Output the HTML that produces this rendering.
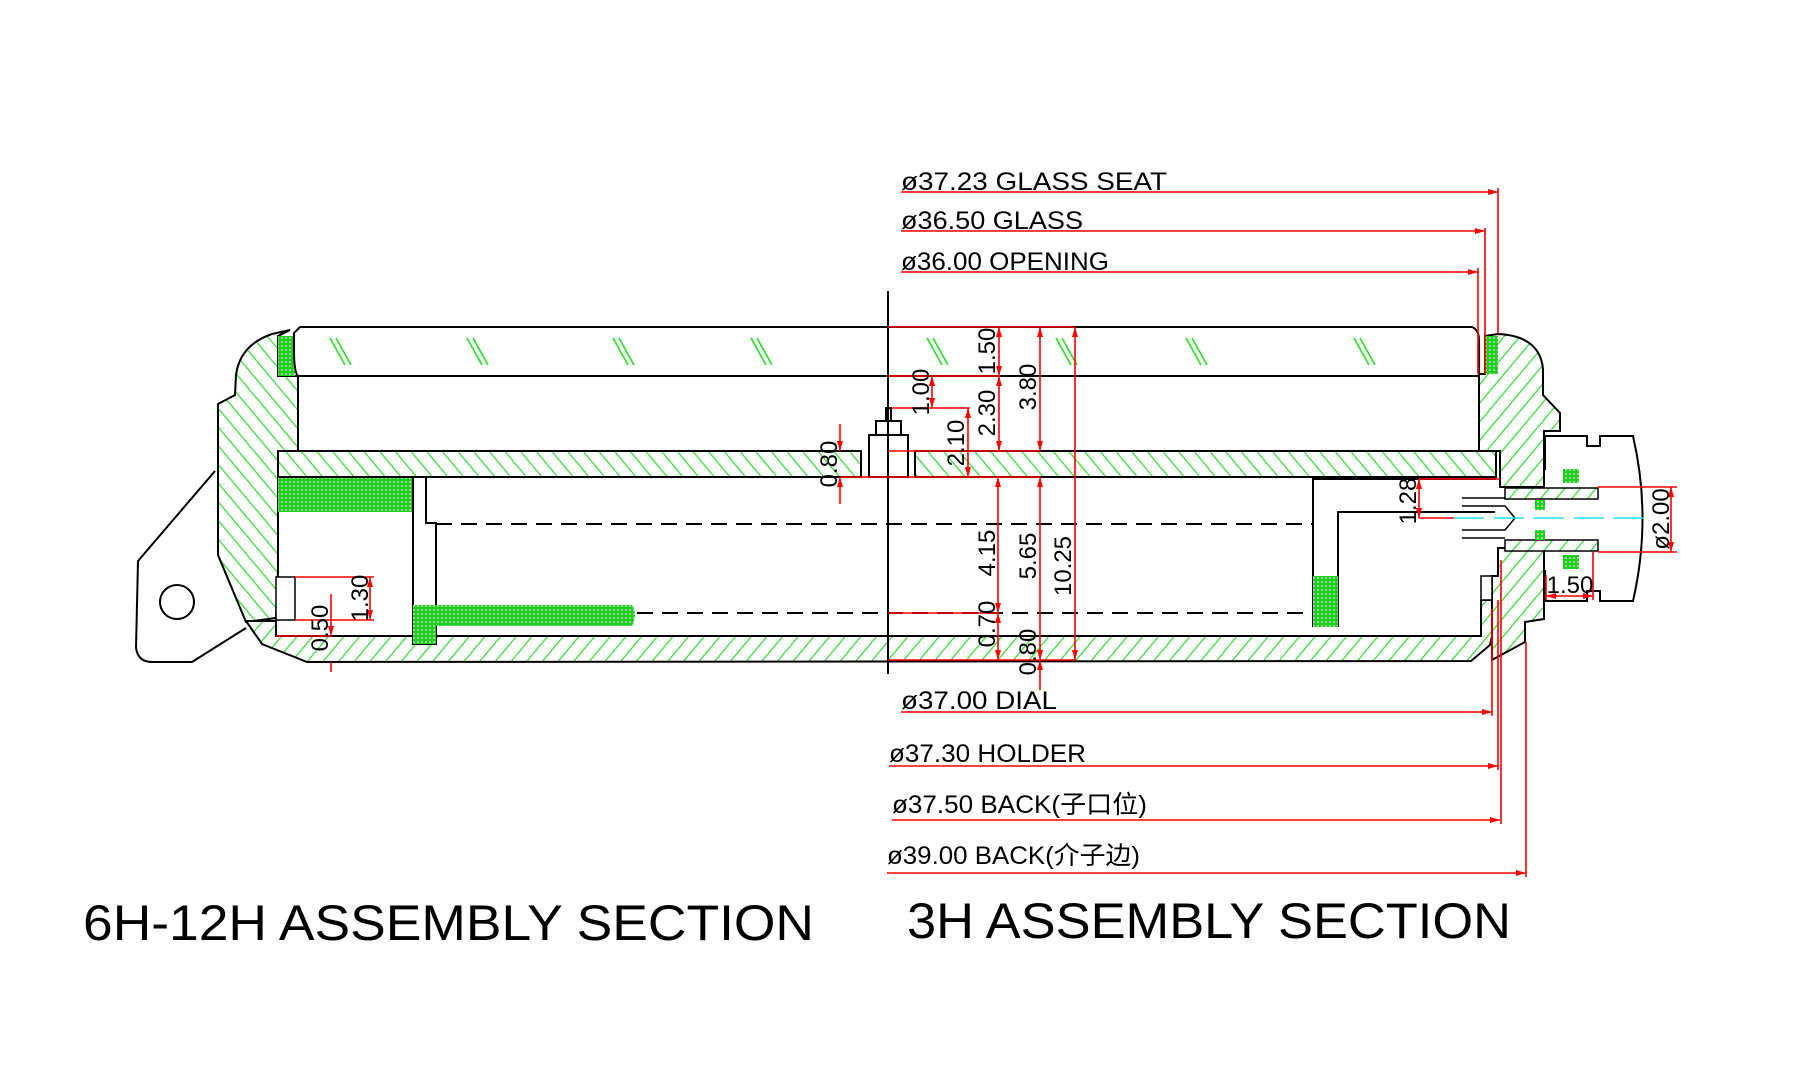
<!DOCTYPE html>
<html><head><meta charset="utf-8"><style>
html,body{margin:0;padding:0;background:#fff}
svg{display:block}
text{font-family:"Liberation Sans","Noto Sans CJK SC",sans-serif}
</style></head><body>
<svg width="1800" height="1079" viewBox="0 0 1800 1079" xmlns="http://www.w3.org/2000/svg">
<defs>
<pattern id="hb" width="12" height="12" patternUnits="userSpaceOnUse" patternTransform="rotate(-40)">
<rect width="12" height="12" fill="#fff"/><line x1="0" y1="0" x2="0" y2="12" stroke="#33dd33" stroke-width="2.5"/></pattern>
<pattern id="hf" width="12" height="12" patternUnits="userSpaceOnUse" patternTransform="rotate(40)">
<rect width="12" height="12" fill="#fff"/><line x1="0" y1="0" x2="0" y2="12" stroke="#33dd33" stroke-width="2.5"/></pattern>
<pattern id="dot" width="4" height="4" patternUnits="userSpaceOnUse">
<rect width="4" height="4" fill="#22cc22"/><circle cx="2" cy="2" r="0.8" fill="#fff"/></pattern>
<marker id="a" viewBox="0 0 10 6" refX="10" refY="3" markerWidth="10" markerHeight="6" orient="auto-start-reverse" markerUnits="userSpaceOnUse">
<path d="M0,0 L10,3 L0,6 Z" fill="#f00"/></marker>
</defs>

<g stroke="#000" stroke-width="2" fill="none">
<path d="M215,471 L138,561 L136,648 Q138,662 152,662 L192,662 L246,628" fill="#fff"/>
<circle cx="177" cy="602" r="17"/>
<path d="M290,330 L272,334 Q240,345 236,375 L235,395 L218,404 L218,555 L246,622 L276,618 L278,572 L278,451 L298,451 L298,376 L278,376 L278,336 Z" fill="url(#hb)"/>
<rect x="278" y="336" width="17" height="40" fill="url(#dot)" stroke="none"/>
<path d="M300,327 L1472,327 Q1479,330 1479,340 L1479,376 L298,376 Q294,372 294,350 L294,333 Z" fill="#fff"/>
<rect x="278" y="451" width="583" height="26" fill="url(#hb)"/>
<rect x="915" y="451" width="581" height="26" fill="url(#hb)"/>
<rect x="869" y="435" width="39" height="42" fill="#fff"/>
<rect x="876" y="421" width="25" height="14" fill="#fff"/>
<rect x="886" y="408" width="5" height="13" fill="#fff"/>
<path d="M246,621 L276,621 L276,636 L1481,636 L1481,600 L1492,600 L1492,636 L1490,645 L1471,661 L307,662 L262,644 Z" fill="url(#hf)"/>
<rect x="278" y="478" width="135" height="34" fill="url(#dot)" stroke="none"/>
<path d="M413,478 L413,644 L436,644 L436,523 L426,523 L426,478"/>
<path d="M413,605 L632,605 Q638,615 632,626 L413,626 Z" fill="url(#dot)" stroke="none"/>
<rect x="413" y="605" width="23" height="39" fill="url(#dot)" stroke="none"/>
<rect x="276" y="577" width="19" height="43" fill="#fff" stroke-width="1.5"/>
<path d="M1498,334 Q1540,336 1543,369 L1543,395 L1560,413 L1560,431 L1544,431 L1544,487 L1500,487 L1500,451 L1479,451 L1479,374 L1485,374 L1485,336 Z" fill="url(#hf)"/>
<rect x="1485" y="336" width="13" height="38" fill="url(#dot)" stroke="none"/>
<path d="M1498,548 L1544,548 L1544,619 L1525,622 L1525,642 L1492,660 L1492,576 L1498,576 Z" fill="url(#hf)"/>
<rect x="1481" y="576" width="11" height="24" fill="#fff" stroke-width="1.5"/>
<path d="M1313,627 L1313,479 L1496,479"/>
<path d="M1338,627 L1338,512 L1495,512"/>
<rect x="1313" y="576" width="25" height="51" fill="url(#dot)" stroke="none"/>
<rect x="1505" y="488" width="93" height="11" fill="url(#hf)" stroke-width="1.5"/>
<rect x="1505" y="540" width="93" height="11" fill="url(#hf)" stroke-width="1.5"/>
<rect x="1563" y="469" width="16" height="14" fill="url(#dot)" stroke="none"/>
<rect x="1563" y="555" width="16" height="14" fill="url(#dot)" stroke="none"/>
<rect x="1535" y="500" width="10" height="10" fill="url(#dot)" stroke="none"/>
<rect x="1535" y="530" width="10" height="10" fill="url(#dot)" stroke="none"/>
<path d="M1462,506 L1505,506 L1515,518 L1505,530 L1462,530" stroke-width="1.5"/>
<path d="M1462,498 L1505,498 M1462,538 L1505,538" stroke-width="1.5"/>
<path d="M1545,470 L1545,436 L1587,436 L1587,446 L1600,446 L1600,436 L1633,436 Q1652,518 1633,601 L1600,601 L1600,591 L1587,591 L1587,601 L1545,601 L1545,570"/>
<line x1="436" y1="524" x2="1313" y2="524" stroke-dasharray="16,9"/>
<line x1="637" y1="613" x2="1313" y2="613" stroke-dasharray="16,9"/>
<line x1="888" y1="291" x2="888" y2="674"/>
</g>
<line x1="1454" y1="518" x2="1644" y2="518" stroke="#22dddd" stroke-width="1.5" stroke-dasharray="30,10"/>
<g stroke="#33dd33" stroke-width="1.8">
<path d="M330,338 L345,365 M336,338 L351,365"/>
<path d="M467,338 L482,365 M473,338 L488,365"/>
<path d="M613,338 L628,365 M619,338 L634,365"/>
<path d="M751,338 L766,365 M757,338 L772,365"/>
<path d="M927,338 L942,365 M933,338 L948,365"/>
<path d="M1056,338 L1071,365 M1062,338 L1077,365"/>
<path d="M1186,338 L1201,365 M1192,338 L1207,365"/>
<path d="M1354,338 L1369,365 M1360,338 L1375,365"/>
</g>

<g stroke="#f00" stroke-width="1.6" fill="none">
<path d="M888,327 H1075 M888,376 H999 M892,408 H970 M888,451 H1040 M840,477 H1040 M888,613 H998 M888,660 H1075"/>
<line x1="999" y1="327" x2="999" y2="376" marker-start="url(#a)" marker-end="url(#a)"/>
<line x1="999" y1="376" x2="999" y2="451" marker-start="url(#a)" marker-end="url(#a)"/>
<line x1="1040" y1="327" x2="1040" y2="451" marker-start="url(#a)" marker-end="url(#a)"/>
<line x1="1075" y1="327" x2="1075" y2="660" marker-start="url(#a)" marker-end="url(#a)"/>
<line x1="998" y1="477" x2="998" y2="613" marker-start="url(#a)" marker-end="url(#a)"/>
<line x1="998" y1="613" x2="998" y2="660" marker-start="url(#a)" marker-end="url(#a)"/>
<line x1="1040" y1="477" x2="1040" y2="660" marker-start="url(#a)" marker-end="url(#a)"/>
<line x1="1040" y1="660" x2="1040" y2="690" marker-start="url(#a)"/>
<line x1="932" y1="376" x2="932" y2="408" marker-start="url(#a)" marker-end="url(#a)"/>
<line x1="968" y1="408" x2="968" y2="477" marker-start="url(#a)" marker-end="url(#a)"/>
<line x1="840" y1="424" x2="840" y2="451" marker-end="url(#a)"/>
<line x1="840" y1="504" x2="840" y2="477" marker-end="url(#a)"/>
<path d="M295,577 H374 M295,620 H374 M276,636 H331"/>
<line x1="370" y1="577" x2="370" y2="620" marker-start="url(#a)" marker-end="url(#a)"/>
<line x1="331" y1="594" x2="331" y2="636" marker-end="url(#a)"/>
<line x1="331" y1="662" x2="331" y2="672" />
<line x1="1419" y1="479" x2="1419" y2="518" marker-start="url(#a)" marker-end="url(#a)"/>
<path d="M1419,479 H1500 M1419,518 H1454"/>
<path d="M1598,487 H1677 M1598,552 H1677"/>
<line x1="1671" y1="487" x2="1671" y2="552" marker-start="url(#a)" marker-end="url(#a)"/>
<path d="M1546,575 V600 M1593,552 V600"/>
<line x1="1546" y1="596" x2="1593" y2="596" marker-start="url(#a)" marker-end="url(#a)"/>
<line x1="901" y1="192" x2="1498" y2="192" marker-end="url(#a)"/><path d="M1498,188 V334"/>
<line x1="901" y1="231" x2="1485" y2="231" marker-end="url(#a)"/><path d="M1485,228 V374"/>
<line x1="901" y1="272" x2="1478" y2="272" marker-end="url(#a)"/><path d="M1478,268 V374"/>
<line x1="901" y1="712" x2="1492" y2="712" marker-end="url(#a)"/><path d="M1492,609 V716"/>
<line x1="889" y1="766" x2="1498" y2="766" marker-end="url(#a)"/><path d="M1498,600 V770"/>
<line x1="892" y1="820" x2="1500" y2="820" marker-end="url(#a)"/><path d="M1501,560 V824"/>
<line x1="887" y1="873" x2="1526" y2="873" marker-end="url(#a)"/><path d="M1526,642 V877"/>
</g>

<g font-size="24" fill="#000" text-anchor="middle">
<text transform="translate(995,351) rotate(-90)">1.50</text>
<text transform="translate(995,413) rotate(-90)">2.30</text>
<text transform="translate(1036,387) rotate(-90)">3.80</text>
<text transform="translate(929,392) rotate(-90)">1.00</text>
<text transform="translate(964,443) rotate(-90)">2.10</text>
<text transform="translate(995,553) rotate(-90)">4.15</text>
<text transform="translate(995,624) rotate(-90)">0.70</text>
<text transform="translate(1036,556) rotate(-90)">5.65</text>
<text transform="translate(1036,652) rotate(-90)">0.80</text>
<text transform="translate(1071,566) rotate(-90)">10.25</text>
<text transform="translate(837,464) rotate(-90)">0.80</text>
<text transform="translate(368,598) rotate(-90)">1.30</text>
<text transform="translate(328,628) rotate(-90)">0.50</text>
<text transform="translate(1416,501) rotate(-90)">1.28</text>
<text transform="translate(1669,519) rotate(-90)">ø2.00</text>
<text x="1570" y="593">1.50</text>
</g>
<g font-size="25" fill="#000">
<text x="901" y="190" textLength="266" lengthAdjust="spacingAndGlyphs">ø37.23 GLASS SEAT</text>
<text x="901" y="229" textLength="182" lengthAdjust="spacingAndGlyphs">ø36.50 GLASS</text>
<text x="901" y="270" textLength="208" lengthAdjust="spacingAndGlyphs">ø36.00 OPENING</text>
<text x="901" y="709" textLength="156" lengthAdjust="spacingAndGlyphs">ø37.00 DIAL</text>
<text x="889" y="762" textLength="197" lengthAdjust="spacingAndGlyphs">ø37.30 HOLDER</text>
<text x="892" y="813" textLength="255" lengthAdjust="spacingAndGlyphs">ø37.50 BACK(子口位)</text>
<text x="887" y="864" textLength="253" lengthAdjust="spacingAndGlyphs">ø39.00 BACK(介子边)</text>
</g>
<g font-size="50" fill="#000">
<text x="83" y="940" textLength="731" lengthAdjust="spacingAndGlyphs">6H-12H ASSEMBLY SECTION</text>
<text x="907" y="938" textLength="604" lengthAdjust="spacingAndGlyphs">3H ASSEMBLY SECTION</text>
</g>
</svg>
</body></html>
